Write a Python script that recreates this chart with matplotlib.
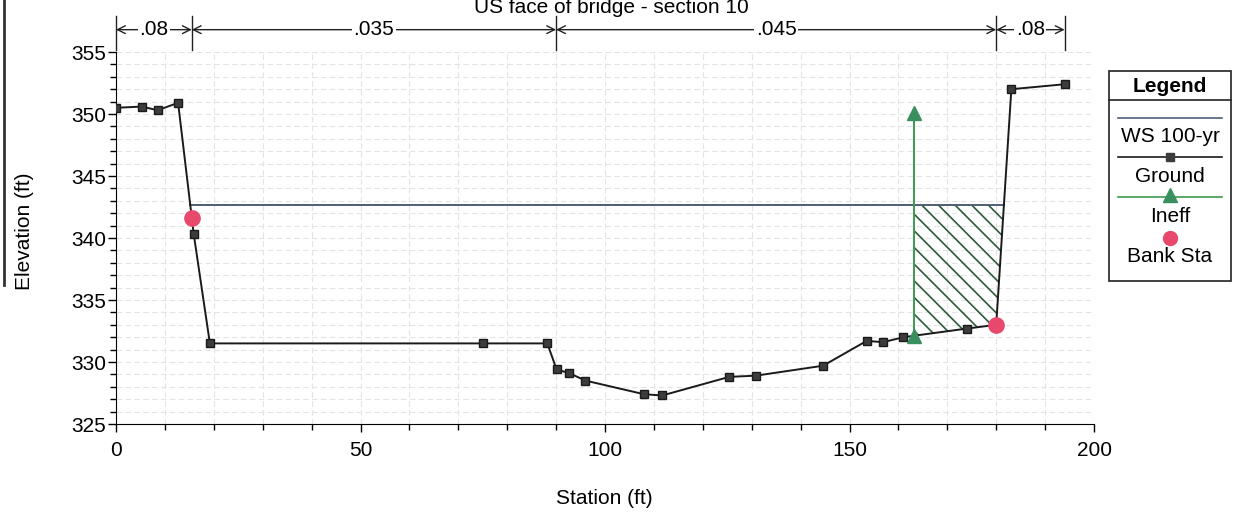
import numpy as np
import matplotlib
matplotlib.use("Agg")
import matplotlib.pyplot as plt
from matplotlib.ticker import MultipleLocator
from matplotlib.patches import Rectangle

plt.rcParams['font.family'] = ['Liberation Sans', 'DejaVu Sans']
plt.rcParams['hatch.linewidth'] = 1.2

# Ground profile (station ft, elevation ft)
ground_sta = [0, 5.3, 8.5, 12.7, 15.9, 19.2, 75.0, 88.2, 90.1, 92.7, 96.0, 108.0, 111.7,
              125.4, 130.9, 144.6, 153.5, 156.9, 161.0, 174.1, 180.0, 183.1, 194.0]
ground_elev = [350.5, 350.6, 350.3, 350.9, 340.3, 331.5, 331.5, 331.5, 329.4, 329.1, 328.5,
               327.4, 327.3, 328.8, 328.9, 329.7, 331.7, 331.6, 332.0, 332.7, 333.0, 352.0, 352.4]

# water surface, bank stations, ineffective flow
ws_elev = 342.7
bank_sta = [15.5, 180.0]
ineff_sta = 163.2
ineff_elev = 350.1

# Manning's n regions
n_sta = [0, 15.5, 90, 180, 194]
n_vals = ['.08', '.035', '.045', '.08']
n_elev = 356.8

gs = np.array(ground_sta)
ge = np.array(ground_elev)


def crossings(level):
    # stations where the ground line crosses a given elevation
    out = []
    for i in range(len(gs) - 1):
        a, b = ge[i] - level, ge[i + 1] - level
        if a == 0 or a * b < 0:
            out.append(gs[i] + (gs[i + 1] - gs[i]) * a / (a - b))
    return out


fig = plt.figure(figsize=(12.35, 5.16), dpi=100)
ax = fig.add_axes([116 / 1235, 1 - 424 / 516, (1094 - 116) / 1235, (424 - 52) / 516])

ax.set_xlim(0, 200)
ax.set_ylim(325, 355)
ax.xaxis.set_major_locator(MultipleLocator(50))
ax.xaxis.set_minor_locator(MultipleLocator(10))
ax.yaxis.set_major_locator(MultipleLocator(5))
ax.yaxis.set_minor_locator(MultipleLocator(1))
for s in ['top', 'right']:
    ax.spines[s].set_visible(False)
ax.tick_params(axis='both', which='major', labelsize=15, length=6, width=1)
ax.tick_params(axis='both', which='minor', length=4, width=1)
ax.tick_params(axis='x', which='major', pad=6)
ax.tick_params(axis='y', which='major', pad=1)
ax.grid(which='both', color='#e4e4e4', linestyle=(0, (5, 3)), linewidth=0.8)
ax.set_axisbelow(True)

# water surface
xs = crossings(ws_elev)
ax.plot([xs[0], xs[-1]], [ws_elev, ws_elev], color='#4d5f78', lw=1.4, zorder=3)

# ineffective flow hatch
xx = np.linspace(ineff_sta, xs[-1], 300)
gy = np.interp(xx, gs, ge)
ax.fill_between(xx, gy, ws_elev, where=gy <= ws_elev, facecolor='none',
                edgecolor='#2e5a3a', hatch='\\\\', linewidth=0, zorder=2)
ineff_ground = np.interp(ineff_sta, gs, ge)
ax.plot([ineff_sta, ineff_sta], [ineff_ground, ineff_elev], color='#3e9a50', lw=1.4, zorder=4)
ax.plot([ineff_sta, ineff_sta], [ineff_ground, ineff_elev], ls='none', marker='^',
        ms=10, color='#3a8f5e', zorder=6)

# ground
ax.plot(gs, ge, color='#1a1a1a', lw=1.4, marker='s', ms=6,
        mfc='#3c3c3c', mec='#1a1a1a', zorder=5)

# bank stations
ax.plot(bank_sta, np.interp(bank_sta, gs, ge), ls='none', marker='o', ms=11,
        color='#e8486b', zorder=7)

# Manning's n markers above plot
for s in n_sta:
    ax.plot([s, s], [355.2, 357.9], color='#222222', lw=1, clip_on=False)
for i, lab in enumerate(n_vals):
    ax.annotate('', xy=(n_sta[i], n_elev), xytext=(n_sta[i + 1], n_elev),
                arrowprops=dict(arrowstyle='<->', color='#222222', lw=1,
                                shrinkA=0, shrinkB=0, mutation_scale=14),
                annotation_clip=False)
    ax.text((n_sta[i] + n_sta[i + 1]) / 2, n_elev, lab, ha='center', va='center',
            fontsize=15, clip_on=False,
            bbox=dict(facecolor='white', edgecolor='none', pad=1))

# titles / labels
fig.text(611 / 1235, 1 - 13 / 516, 'US face of bridge - section 10', ha='center',
         va='baseline', fontsize=15)
fig.text(24 / 1235, 1 - 231 / 516, 'Elevation (ft)', rotation=90, ha='center',
         va='center', fontsize=15)
fig.text(604 / 1235, 1 - 499 / 516, 'Station (ft)', ha='center', va='center', fontsize=15)

# scan border at left edge
fig.add_artist(plt.Line2D([4 / 1235, 4 / 1235], [1, 1 - 285 / 516], color='#333333', lw=2))

# legend box
lax = fig.add_axes([1108 / 1235, 1 - 282 / 516, 124 / 1235, 212 / 516])
lax.set_xlim(0, 124)
lax.set_ylim(212, 0)
lax.axis('off')
lax.add_patch(Rectangle((1, 1), 122, 210, fill=False, edgecolor='#222222', lw=1.2))
lax.plot([1, 123], [30, 30], color='#222222', lw=1.2)
lax.text(62, 16, 'Legend', ha='center', va='center', fontsize=15, fontweight='bold')
lax.plot([10, 114], [48, 48], color='#4d5f78', lw=1.2)
lax.text(62, 67, 'WS 100-yr', ha='center', va='center', fontsize=15)
lax.plot([10, 114], [87, 87], color='#1a1a1a', lw=1.2)
lax.plot([62], [87], marker='s', ms=6, color='#3c3c3c')
lax.text(62, 106, 'Ground', ha='center', va='center', fontsize=15)
lax.plot([10, 114], [127, 127], color='#3e9a50', lw=1.2)
lax.plot([62], [125], marker='^', ms=10, color='#3a8f5e')
lax.text(62, 147, 'Ineff', ha='center', va='center', fontsize=15)
lax.plot([62], [168], marker='o', ms=10, color='#e8486b')
lax.text(62, 187, 'Bank Sta', ha='center', va='center', fontsize=15)

fig.savefig('out.png', dpi=100, facecolor='white')
